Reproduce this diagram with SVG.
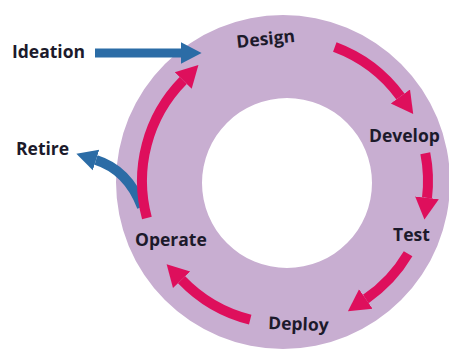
<svg xmlns="http://www.w3.org/2000/svg" width="449" height="352" viewBox="0 0 449 352">
<style>
.lbl{font-family:"Open Sans","DejaVu Sans",sans-serif;font-weight:700;font-size:17.5px;fill:#1c1a2b}
.pk{fill:none;stroke:#de0f5c;stroke-width:10}
.bl{fill:none;stroke:#2b6ca6;stroke-width:9}
</style>
<defs>
<marker id="hp" markerUnits="userSpaceOnUse" markerWidth="24" markerHeight="26" viewBox="0 -12 22 24" refX="0" refY="0" orient="auto">
<path d="M0,-11 L20,0 L0,11 z" fill="#de0f5c"/>
</marker>
<marker id="hb" markerUnits="userSpaceOnUse" markerWidth="24" markerHeight="26" viewBox="0 -12 22 24" refX="0" refY="0" orient="auto">
<path d="M0,-10 L19,0 L0,10 z" fill="#2b6ca6"/>
</marker>
</defs>
<rect width="449" height="352" fill="#ffffff"/>
<g id="ring">
<path d="M283,15 A167,167 0 1 1 283,349 A167,167 0 1 1 283,15 Z M287,98 A85,85 0 1 0 287,268 A85,85 0 1 0 287,98 Z" fill="#c8aed1" fill-rule="evenodd"/>
</g>
<g id="connectors">
<path class="bl" d="M95,53 L181,53" marker-end="url(#hb)"/>
<path class="bl" d="M142,207 Q128,170 96,160" marker-end="url(#hb)" style="stroke-width:10"/>
<path class="pk" d="M146.9,218 A143,143 0 0 1 183.2,80.5" marker-end="url(#hp)"/>
<path class="pk" d="M334.8,47 A143,143 0 0 1 400.4,96.5" marker-end="url(#hp)"/>
<path class="pk" d="M425.3,153.2 A143,143 0 0 1 427,197.9" marker-end="url(#hp)"/>
<path class="pk" d="M408.1,253.8 A143,143 0 0 1 365.8,299" marker-end="url(#hp)"/>
<path class="pk" d="M250.2,319.7 A143,143 0 0 1 181.6,279.8" marker-end="url(#hp)"/>
</g>
<g id="ideation"><text class="lbl" x="12" y="58">Ideation</text></g>
<g id="retire"><text class="lbl" x="16" y="155">Retire</text></g>
<g id="design"><text class="lbl" x="237" y="48" transform="rotate(-6 237 48)">Design</text></g>
<g id="develop"><text class="lbl" x="369" y="142">Develop</text></g>
<g id="test"><text class="lbl" x="393" y="241">Test</text></g>
<g id="deploy"><text class="lbl" x="268" y="329" transform="rotate(2 268 329)">Deploy</text></g>
<g id="operate"><text class="lbl" x="135" y="246">Operate</text></g>
</svg>
